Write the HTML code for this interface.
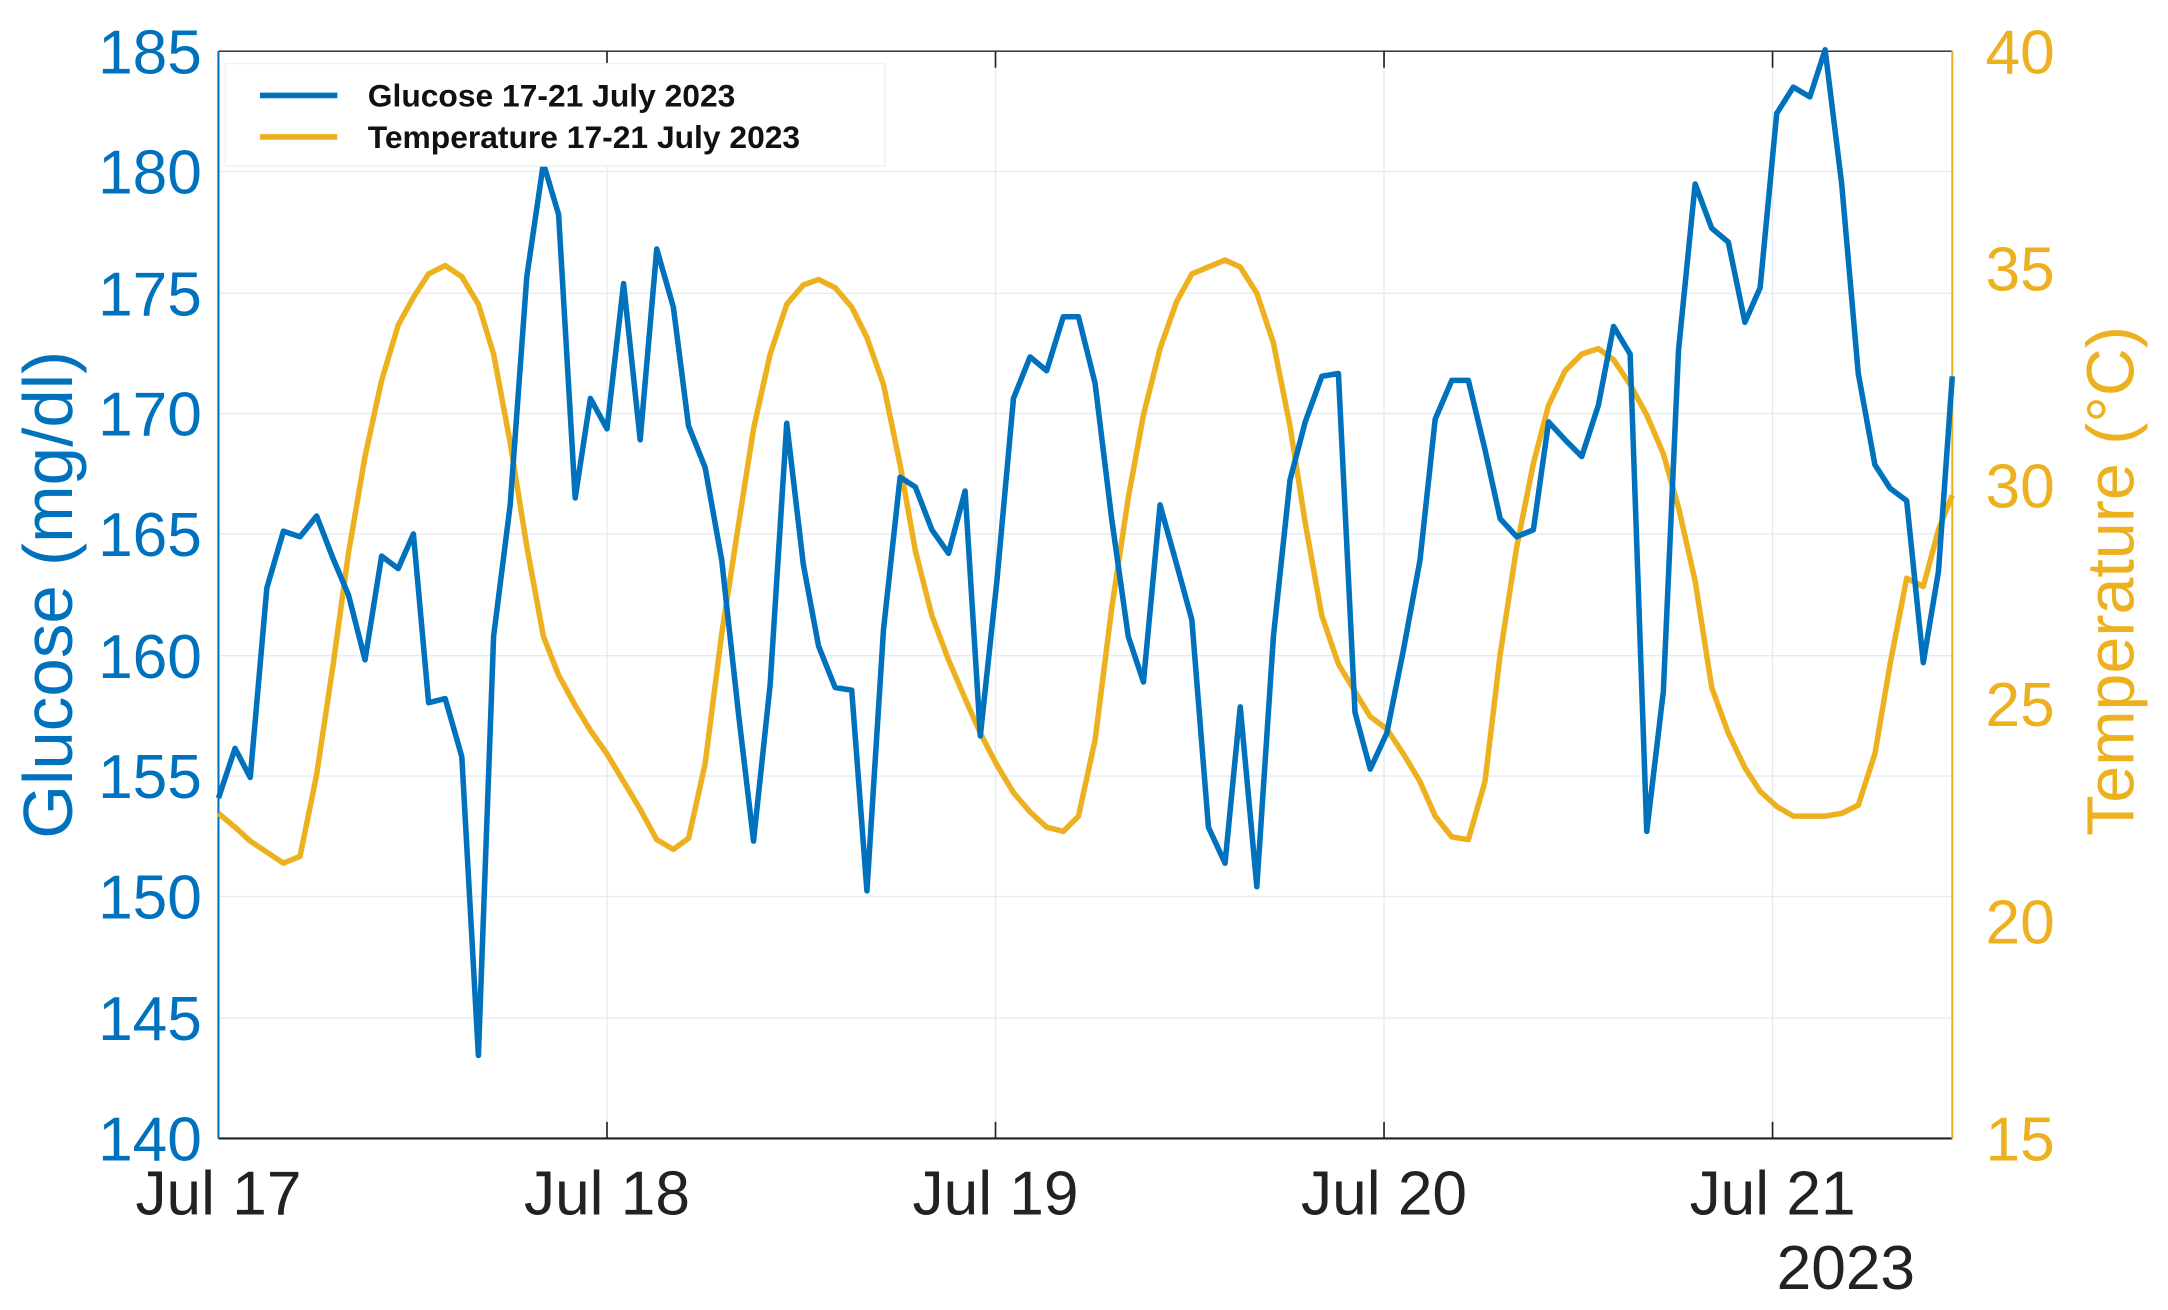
<!DOCTYPE html>
<html><head><meta charset="utf-8"><style>
html,body{margin:0;padding:0;background:#fff;}
svg{display:block;}
text{font-family:"Liberation Sans",Arial,sans-serif;}
</style></head><body>
<svg width="2168" height="1310" viewBox="0 0 1568 947" preserveAspectRatio="none" xmlns="http://www.w3.org/2000/svg">
<rect width="1568" height="947" fill="#fff"/>
<g stroke="#e4ecf2" stroke-width="1">
<line x1="158" y1="124" x2="1412" y2="124"/><line x1="158" y1="212" x2="1412" y2="212"/>
<line x1="158" y1="299" x2="1412" y2="299"/><line x1="158" y1="386" x2="1412" y2="386"/>
<line x1="158" y1="474" x2="1412" y2="474"/><line x1="158" y1="561" x2="1412" y2="561"/>
<line x1="158" y1="648" x2="1412" y2="648"/><line x1="158" y1="736" x2="1412" y2="736"/>
<line x1="439" y1="37" x2="439" y2="823"/><line x1="720" y1="37" x2="720" y2="823"/>
<line x1="1001" y1="37" x2="1001" y2="823"/><line x1="1282" y1="37" x2="1282" y2="823"/>
</g>
<line x1="158" y1="37" x2="1412" y2="37" stroke="#222" stroke-width="1"/>
<line x1="158" y1="823" x2="1412" y2="823" stroke="#222" stroke-width="1.5"/>
<line x1="158" y1="37" x2="158" y2="823" stroke="#0072BD" stroke-width="1.5"/>
<line x1="1412" y1="37" x2="1412" y2="823" stroke="#EDB120" stroke-width="1.5"/>
<g stroke="#222" stroke-width="1.2">
<line x1="439" y1="823" x2="439" y2="811"/><line x1="720" y1="823" x2="720" y2="811"/><line x1="1001" y1="823" x2="1001" y2="811"/><line x1="1282" y1="823" x2="1282" y2="811"/>
<line x1="439" y1="37" x2="439" y2="49"/><line x1="720" y1="37" x2="720" y2="49"/><line x1="1001" y1="37" x2="1001" y2="49"/><line x1="1282" y1="37" x2="1282" y2="49"/>
</g>
<g fill="#0072BD" font-size="45" text-anchor="end">
<text x="146" y="53">185</text><text x="146" y="140">180</text><text x="146" y="228">175</text><text x="146" y="315">170</text><text x="146" y="402">165</text><text x="146" y="490">160</text><text x="146" y="577">155</text><text x="146" y="664">150</text><text x="146" y="752">145</text><text x="146" y="839">140</text>
</g>
<text transform="translate(52,430) rotate(-90)" fill="#0072BD" font-size="50" text-anchor="middle">Glucose (mg/dl)</text>
<g fill="#EDB120" font-size="45">
<text x="1436" y="53">40</text><text x="1436" y="210">35</text><text x="1436" y="367">30</text><text x="1436" y="525">25</text><text x="1436" y="682">20</text><text x="1436" y="839">15</text>
</g>
<text transform="translate(1543,420) rotate(-90)" fill="#EDB120" font-size="48" text-anchor="middle">Temperature (°C)</text>
<g fill="#222" font-size="45" text-anchor="middle">
<text x="158" y="878">Jul 17</text><text x="439" y="878">Jul 18</text><text x="720" y="878">Jul 19</text><text x="1001" y="878">Jul 20</text><text x="1282" y="878">Jul 21</text><text x="1335" y="932">2023</text>
</g>
<polyline fill="none" stroke="#EDB120" stroke-width="4" stroke-linejoin="round" points="158,588 170,598 181,608 193,616 205,624 217,619 229,560 241,480 252,400 264,330 276,275 288,235 299,215 310,198 322,192 334,200 346,220 357,256 369,320 381,395 393,460 404,488 416,510 427,528 439,545 451,565 463,585 475,607 487,614 498,606 510,552 522,458 534,380 545,310 557,256 569,220 581,206 592,202 604,208 616,222 627,244 639,278 651,336 662,398 674,445 686,477 698,505 709,530 721,553 733,573 745,587 757,598 769,601 780,590 792,535 804,440 816,360 827,300 839,252 851,218 862,198 874,193 886,188 897,193 909,212 921,248 933,308 944,378 956,445 968,480 980,500 991,518 1003,527 1015,545 1027,565 1038,590 1050,605 1062,607 1074,565 1085,473 1097,395 1109,335 1120,293 1132,268 1144,256 1156,252 1167,260 1179,278 1191,300 1203,328 1214,367 1226,420 1238,497 1250,530 1262,555 1273,572 1285,583 1297,590 1309,590 1320,590 1332,588 1344,582 1356,545 1367,480 1379,418 1391,424 1402,383 1412,358"/>
<polyline fill="none" stroke="#0072BD" stroke-width="4" stroke-linejoin="round" points="158,577 170,541 181,562 193,425 205,384 217,388 229,373 241,404 252,430 264,477 276,402 288,411 299,386 310,508 322,505 334,547 346,763 357,460 369,365 381,200 393,118 404,155 416,360 427,288 439,310 451,205 463,318 475,180 487,222 498,308 510,338 522,405 534,515 545,608 557,495 569,306 581,408 592,467 604,497 616,499 627,644 639,455 651,345 662,352 674,383 686,400 698,355 709,532 721,420 733,288 745,258 757,268 769,229 780,229 792,277 804,375 816,460 827,493 839,365 851,408 862,448 874,598 886,624 897,511 909,641 921,460 933,347 944,305 956,272 968,270 980,515 991,556 1003,530 1015,470 1027,405 1038,303 1050,275 1062,275 1074,325 1085,375 1097,388 1109,383 1120,305 1132,318 1144,330 1156,293 1167,236 1179,256 1191,601 1203,500 1214,253 1226,133 1238,165 1250,175 1262,233 1273,208 1285,82 1297,63 1309,70 1320,36 1332,133 1344,270 1356,336 1367,353 1379,362 1391,479 1402,413 1412,272"/>
<rect x="163" y="46" width="477" height="74" fill="#fff" stroke="#f0f0f0"/>
<line x1="188" y1="69" x2="244" y2="69" stroke="#0072BD" stroke-width="4"/>
<line x1="188" y1="99" x2="244" y2="99" stroke="#EDB120" stroke-width="4"/>
<g fill="#111" font-size="23" font-weight="bold">
<text x="266" y="77">Glucose 17-21 July 2023</text>
<text x="266" y="107">Temperature 17-21 July 2023</text>
</g>
</svg>
</body></html>
